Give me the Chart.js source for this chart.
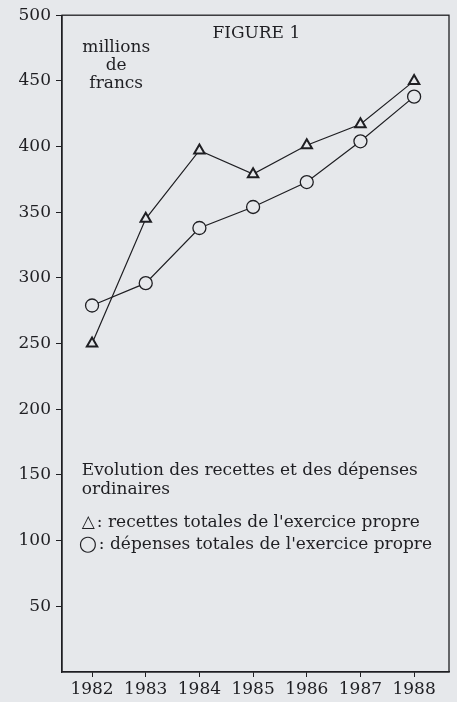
<!DOCTYPE html>
<html>
<head>
<meta charset="utf-8">
<script src="https://cdn.jsdelivr.net/npm/chart.js@4/dist/chart.umd.min.js"></script>
<style>
  html, body { margin: 0; padding: 0; background: #e6e8eb; }
</style>
</head>
<body>
<canvas id="fig1" width="457" height="702"></canvas>
<script>
// Données (millions de francs)
var years = [1982, 1983, 1984, 1985, 1986, 1987, 1988];
var recettes = [250, 345, 397, 379, 401, 417, 450];
var depenses = [279, 296, 338, 354, 373, 404, 438];
var yTickValues = [50, 100, 150, 200, 250, 300, 350, 400, 450, 500];

var unitLines = ['millions', 'de', 'francs'];
var figureTitle = 'FIGURE 1';
var legendTitle = ['Evolution des recettes et des dépenses', 'ordinaires'];
var legendRecettes = ": recettes totales de l'exercice propre";
var legendDepenses = ": dépenses totales de l'exercice propre";

var ink = '#1f1f23';
var paper = '#e6e8eb';
var serif = '"DejaVu Serif", "Liberation Serif", serif';

function toPoints(values) {
    return years.map(function (yr, i) { return { x: yr, y: values[i] }; });
}

// Cadre, titre et légende dessinés dans la zone du graphique
var figureText = {
    id: 'figureText',
    beforeDraw: function (chart) {
        var ctx = chart.ctx;
        ctx.save();
        ctx.fillStyle = paper;
        ctx.fillRect(0, 0, chart.width, chart.height);
        ctx.restore();
    },
    afterDraw: function (chart) {
        var ctx = chart.ctx;
        var a = chart.chartArea;
        var sx = chart.scales.x, sy = chart.scales.y;
        ctx.save();
        ctx.strokeStyle = ink;
        ctx.lineWidth = 1.3;
        ctx.strokeRect(a.left, a.top, a.right - a.left, a.bottom - a.top);

        ctx.fillStyle = ink;
        ctx.textBaseline = 'middle';

        // unité
        ctx.font = '17px ' + serif;
        ctx.textAlign = 'center';
        var ux = sx.getPixelForValue(1982.45);
        [475, 462, 448].forEach(function (v, i) {
            ctx.fillText(unitLines[i], ux, sy.getPixelForValue(v));
        });

        // titre
        ctx.fillText(figureTitle, sx.getPixelForValue(1985.06), sy.getPixelForValue(486));

        // légende
        ctx.textAlign = 'left';
        var lx = sx.getPixelForValue(1981.81);
        ctx.fillText(legendTitle[0], lx, sy.getPixelForValue(153.5));
        ctx.fillText(legendTitle[1], lx, sy.getPixelForValue(138.6));

        ctx.font = '17px "DejaVu Sans", sans-serif';
        ctx.fillText('\u25B3', lx, sy.getPixelForValue(113.5));
        ctx.font = '21px "DejaVu Sans", sans-serif';
        ctx.fillText('\u25CB', lx - 3, sy.getPixelForValue(96.8));

        ctx.font = '17px ' + serif;
        ctx.fillText(legendRecettes, lx + 15, sy.getPixelForValue(113.5));
        ctx.fillText(legendDepenses, lx + 17, sy.getPixelForValue(96.8));
        ctx.restore();
    }
};

var chart = new Chart(document.getElementById('fig1'), {
    type: 'line',
    data: {
        datasets: [
            {
                label: 'recettes totales',
                data: toPoints(recettes),
                borderColor: ink,
                borderWidth: 1.2,
                pointStyle: 'triangle',
                pointRadius: 6,
                pointBorderWidth: 2,
                pointBackgroundColor: paper,
                pointBorderColor: ink,
                tension: 0
            },
            {
                label: 'dépenses totales',
                data: toPoints(depenses),
                borderColor: ink,
                borderWidth: 1.2,
                pointStyle: 'circle',
                pointRadius: 6.5,
                pointBorderWidth: 1.3,
                pointBackgroundColor: paper,
                pointBorderColor: ink,
                tension: 0
            }
        ]
    },
    options: {
        responsive: false,
        animation: false,
        layout: { padding: { top: 14, right: 8, left: 0, bottom: 0 } },
        plugins: {
            legend: { display: false },
            tooltip: { enabled: false }
        },
        scales: {
            x: {
                type: 'linear',
                min: 1981.44,
                max: 1988.65,
                afterBuildTicks: function (scale) {
                    scale.ticks = years.map(function (v) { return { value: v }; });
                },
                afterFit: function (scale) { scale.height = 30; },
                grid: { drawOnChartArea: false, drawTicks: true, tickLength: 5, color: ink },
                border: { display: true, color: ink, width: 1.3 },
                ticks: {
                    color: ink,
                    padding: 2,
                    maxRotation: 0,
                    font: { family: serif, size: 17 },
                    callback: function (v) { return String(v); }
                }
            },
            y: {
                min: 0,
                max: 500,
                afterBuildTicks: function (scale) {
                    scale.ticks = yTickValues.map(function (v) { return { value: v }; });
                },
                afterFit: function (scale) { scale.width = 62; },
                grid: { drawOnChartArea: false, drawTicks: true, tickLength: 6, color: ink },
                border: { display: true, color: ink, width: 1.3 },
                ticks: {
                    color: ink,
                    padding: 5,
                    font: { family: serif, size: 17 }
                }
            }
        }
    },
    plugins: [figureText]
});
</script>
</body>
</html>
